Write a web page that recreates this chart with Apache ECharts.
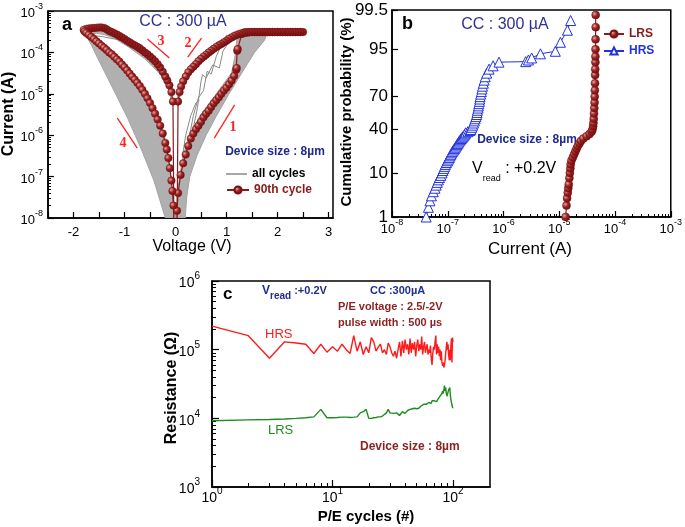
<!DOCTYPE html>
<html><head><meta charset="utf-8">
<script src="https://cdn.jsdelivr.net/npm/echarts@6/dist/echarts.min.js"></script>
<style>html,body{margin:0;padding:0;background:#fff}#c{width:685px;height:527px}</style>
</head><body><div id="c"></div><script>
// ---------- DATA ----------
// Panel a: 90th cycle I-V (V, A)
const branch1 = [[0.0,1e-10],[0.03,1.5e-8],[0.05,4e-8],[0.1,1.1e-7],[0.15,2.1e-7],[0.2,3.4e-7],[0.25,5.5e-7],[0.3,8.3e-7],[0.35,1.1e-6],[0.4,1.4e-6],[0.45,1.7e-6],[0.5,2.1e-6],[0.55,2.7e-6],[0.6,3.3e-6],[0.65,3.9e-6],[0.7,4.8e-6],[0.75,5.9e-6],[0.8,7.0e-6],[0.85,8.3e-6],[0.9,1.0e-5],[0.95,1.2e-5],[1.0,1.4e-5],[1.05,1.7e-5],[1.1,2.1e-5],[1.15,2.7e-5],[1.19,3.8e-5],[1.2,4.2e-5],[1.21,1.1e-4],[1.22,1.2e-4],[1.3,2.8e-4],[1.35,3.05e-4],[1.4,3.1e-4],[1.45,3.1e-4],[1.5,3.1e-4],[1.55,3.1e-4],[1.6,3.1e-4],[1.65,3.1e-4],[1.7,3.1e-4],[1.75,3.1e-4],[1.8,3.1e-4],[1.85,3.1e-4],[1.9,3.1e-4],[1.95,3.1e-4],[2.0,3.1e-4],[2.05,3.1e-4],[2.1,3.1e-4],[2.15,3.1e-4],[2.2,3.1e-4],[2.25,3.1e-4],[2.3,3.1e-4],[2.35,3.1e-4],[2.4,3.1e-4],[2.45,3.1e-4],[2.5,3.1e-4]];
const branch2 = [[2.45,3.1e-4],[2.4,3.1e-4],[2.35,3.1e-4],[2.3,3.1e-4],[2.25,3.1e-4],[2.2,3.1e-4],[2.15,3.1e-4],[2.1,3.1e-4],[2.05,3.1e-4],[2.0,3.1e-4],[1.95,3.1e-4],[1.9,3.1e-4],[1.85,3.1e-4],[1.8,3.1e-4],[1.75,3.1e-4],[1.7,3.1e-4],[1.65,3.1e-4],[1.6,3.1e-4],[1.55,3.1e-4],[1.5,3.1e-4],[1.45,3.05e-4],[1.4,3.0e-4],[1.35,2.95e-4],[1.3,2.9e-4],[1.25,2.8e-4],[1.2,2.65e-4],[1.15,2.5e-4],[1.1,2.3e-4],[1.05,2.1e-4],[1.0,1.9e-4],[0.95,1.75e-4],[0.9,1.6e-4],[0.85,1.48e-4],[0.8,1.35e-4],[0.75,1.22e-4],[0.7,1.1e-4],[0.65,9.9e-5],[0.6,8.8e-5],[0.55,7.9e-5],[0.5,7.0e-5],[0.45,6.1e-5],[0.4,5.2e-5],[0.35,4.5e-5],[0.3,3.9e-5],[0.25,3.3e-5],[0.2,2.6e-5],[0.15,2.0e-5],[0.11,1.5e-5],[0.08,1.1e-5],[0.05,6.5e-6],[0.02,1e-10]];
const branch3 = [[-0.02,1e-10],[-0.05,6.5e-6],[-0.08,1.1e-5],[-0.12,1.6e-5],[-0.16,2.1e-5],[-0.2,2.6e-5],[-0.25,3.4e-5],[-0.3,4.3e-5],[-0.35,5.2e-5],[-0.4,6.1e-5],[-0.45,7.0e-5],[-0.5,8.0e-5],[-0.55,9.0e-5],[-0.6,1.0e-4],[-0.65,1.12e-4],[-0.7,1.24e-4],[-0.75,1.36e-4],[-0.8,1.48e-4],[-0.85,1.6e-4],[-0.9,1.75e-4],[-0.95,1.92e-4],[-1.0,2.1e-4],[-1.05,2.3e-4],[-1.1,2.5e-4],[-1.15,2.7e-4],[-1.2,2.9e-4],[-1.25,3.1e-4],[-1.3,3.3e-4],[-1.35,3.6e-4],[-1.4,3.9e-4],[-1.45,4.0e-4],[-1.5,4.0e-4],[-1.55,3.95e-4],[-1.6,3.9e-4],[-1.65,3.85e-4],[-1.7,3.8e-4],[-1.75,3.7e-4],[-1.8,3.5e-4]];
const branch4 = [[-1.78,3.2e-4],[-1.75,2.95e-4],[-1.7,2.65e-4],[-1.65,2.35e-4],[-1.6,2.1e-4],[-1.55,1.85e-4],[-1.5,1.65e-4],[-1.45,1.45e-4],[-1.4,1.3e-4],[-1.35,1.15e-4],[-1.3,1.0e-4],[-1.25,9.0e-5],[-1.2,7.8e-5],[-1.15,6.8e-5],[-1.1,6.0e-5],[-1.05,5.1e-5],[-1.0,4.4e-5],[-0.95,3.7e-5],[-0.9,3.1e-5],[-0.85,2.6e-5],[-0.8,2.2e-5],[-0.75,1.85e-5],[-0.7,1.55e-5],[-0.65,1.25e-5],[-0.6,1.0e-5],[-0.55,7.8e-6],[-0.5,6.0e-6],[-0.45,4.5e-6],[-0.4,3.3e-6],[-0.35,2.4e-6],[-0.3,1.7e-6],[-0.25,1.1e-6],[-0.2,6.5e-7],[-0.17,4.5e-7],[-0.14,2.8e-7],[-0.11,1.6e-7],[-0.08,8e-8],[-0.06,4.5e-8],[-0.04,2e-8],[0.0,1e-10]];
// Panel a: envelopes of all cycles (outline vertices, V, A)
const bandForward = [[0.0,1e-8],[0.03,3.2e-8],[0.08,1e-7],[0.15,3.2e-7],[0.27,1e-6],[0.5,3.2e-6],[0.8,1e-5],[1.1,3.2e-5],[1.18,1e-4],[1.2,2e-4],[1.25,3.0e-4],[1.8,3.0e-4],[1.75,2e-4],[1.55,1e-4],[1.3,3.2e-5],[1.05,1e-5],[0.82,3.2e-6],[0.6,1e-6],[0.42,3.2e-7],[0.28,1e-7],[0.22,3.2e-8],[0.19,1e-8]];
const bandSetBack = [[0.03,7e-6],[0.08,1.6e-5],[0.2,3.5e-5],[0.4,7e-5],[0.7,1.4e-4],[1.0,2.3e-4],[1.3,3.1e-4],[1.8,3.1e-4],[1.8,2.9e-4],[1.4,2.6e-4],[1.1,1.9e-4],[0.8,1.1e-4],[0.5,5.5e-5],[0.3,3.0e-5],[0.15,1.5e-5],[0.08,8e-6],[0.05,5e-6]];
const bandResetUp = [[-0.05,7e-6],[-0.15,2.2e-5],[-0.3,5e-5],[-0.6,1.1e-4],[-0.9,1.9e-4],[-1.2,3.1e-4],[-1.45,4.1e-4],[-1.7,3.8e-4],[-1.8,3.5e-4],[-1.75,2.7e-4],[-1.55,2.9e-4],[-1.4,2.7e-4],[-1.2,2.2e-4],[-0.9,1.3e-4],[-0.6,7e-5],[-0.3,3e-5],[-0.15,1.4e-5],[-0.07,6e-6]];
const bandResetBack = [[-1.8,3.4e-4],[-1.76,2.7e-4],[-1.65,1.5e-4],[-1.46,5e-5],[-1.2,1.15e-5],[-0.94,2.6e-6],[-0.68,4.9e-7],[-0.42,7.8e-8],[-0.22,1.2e-8],[-0.2,1e-8],[0.0,1e-8],[-0.03,1.5e-8],[-0.08,7e-8],[-0.14,3e-7],[-0.22,1.0e-6],[-0.35,3e-6],[-0.5,7e-6],[-0.7,1.8e-5],[-1.0,5e-5],[-1.3,1.1e-4],[-1.55,2.0e-4],[-1.75,3.2e-4]];
const grayLines = [
  [[0.35,1.5e-6],[0.43,4.6e-6],[0.5,2e-5],[0.53,2.9e-5],[0.6,2.4e-5],[0.73,5e-5],[0.86,4.2e-5],[0.93,1.07e-4],[1.06,1.9e-4],[1.3,2.9e-4]],
  [[0.2,3e-7],[0.35,3e-6],[0.45,8e-6],[0.55,1.2e-5],[0.62,3.5e-5],[0.7,3e-5],[0.8,8e-5],[0.9,1.5e-4],[1.0,2.6e-4]],
  [[-1.75,3.3e-4],[-1.55,2.5e-4],[-1.43,2.4e-4],[-1.1,2.0e-4],[-0.8,1.7e-4],[-0.65,1.5e-4]],
  [[0.15,4e-7],[0.2,1e-6],[0.3,3e-6],[0.4,6e-6],[0.47,7e-6]]
];
// Panel b: cumulative probability [current A, %]
const lrsDist = [[1.3e-5,1],[1.35e-5,2],[1.38e-5,3],[1.42e-5,4],[1.45e-5,5],[1.48e-5,6],[1.52e-5,8],[1.55e-5,10],[1.58e-5,12],[1.6e-5,14],[1.65e-5,16],[1.75e-5,18],[1.85e-5,20],[1.95e-5,22],[2.05e-5,24],[2.15e-5,26],[2.3e-5,28],[2.45e-5,30],[2.7e-5,32],[3.1e-5,34],[3.5e-5,36],[3.8e-5,38],[3.95e-5,40],[4.05e-5,43],[4.1e-5,46],[4.15e-5,50],[4.2e-5,55],[4.25e-5,60],[4.3e-5,65],[4.32e-5,70],[4.35e-5,75],[4.38e-5,80],[4.4e-5,85],[4.42e-5,88],[4.45e-5,91],[4.45e-5,93],[4.47e-5,95],[4.48e-5,97],[4.5e-5,98.5],[4.5e-5,99.3]];
const hrsDist = [[4.1e-8,1.0],[4.5e-8,1.8],[4.8e-8,2.6],[5.1e-8,3.4],[5.5e-8,4.2],[5.9e-8,5.0],[6.2e-8,5.8],[6.5e-8,6.6],[6.8e-8,7.4],[7.1e-8,8.2],[7.5e-8,9.0],[7.9e-8,10],[8.2e-8,11],[8.5e-8,12],[8.8e-8,13],[9.1e-8,14],[9.5e-8,15],[9.9e-8,16],[1.03e-7,17],[1.07e-7,18],[1.1e-7,19],[1.14e-7,20],[1.18e-7,21],[1.22e-7,22],[1.27e-7,23],[1.32e-7,24],[1.37e-7,25],[1.42e-7,26],[1.47e-7,27],[1.52e-7,28],[1.57e-7,29],[1.62e-7,30],[1.68e-7,31],[1.75e-7,32],[1.82e-7,33],[1.9e-7,34],[1.98e-7,35],[2.05e-7,36],[2.1e-7,37],[2.3e-7,38],[2.5e-7,39],[2.6e-7,40],[2.7e-7,42],[2.8e-7,44],[2.9e-7,46],[3.0e-7,48],[3.1e-7,50],[3.2e-7,52],[3.3e-7,54],[3.35e-7,56],[3.4e-7,58],[3.5e-7,60],[3.55e-7,62],[3.6e-7,64],[3.7e-7,66],[3.75e-7,68],[3.8e-7,70],[3.9e-7,72],[4.0e-7,74],[4.1e-7,76],[4.2e-7,78],[4.35e-7,80],[4.5e-7,82],[4.7e-7,84],[5.0e-7,86],[5.5e-7,88],[6.5e-7,89.5],[8.3e-7,91],[2.5e-6,91.2],[2.8e-6,91.8],[3.2e-6,92.5],[4.6e-6,93.8],[8.5e-6,94.5],[1.05e-5,96.5],[1.4e-5,98.2],[1.6e-5,99]];
const probTicks = [1, 10, 40, 70, 95, 99.5];
// Panel c: resistance vs cycle (cycles 1..100)
const hrsCycles = [2.2e5,1.6e5,7.5e4,1.3e5,1.25e5,1.2e5,8.8e4,1.2e5,9.2e4,1.1e5,
9.5e4,1.2e5,1.0e5,8.8e4,1.6e5,9.5e4,1.3e5,8.5e4,1.1e5,9.0e4,
1.5e5,1.3e5,9.5e4,1.1e5,1.2e5,9.0e4,1.0e5,8.5e4,1.25e5,1.1e5,
9.0e4,8.0e4,9.5e4,7.5e4,1.0e5,1.3e5,8.0e4,1.35e5,9.0e4,1.4e5,
1.0e5,1.2e5,8.5e4,1.45e5,9.0e4,1.25e5,1.0e5,1.3e5,8.0e4,1.15e5,
1.4e5,9.5e4,1.2e5,1.0e5,1.55e5,8.5e4,1.1e5,1.3e5,9.0e4,1.05e5,
1.2e5,8.5e4,1.0e5,9.0e4,1.15e5,7.5e4,6.0e4,9.0e4,1.1e5,1.0e5,
1.3e5,1.6e5,8.5e4,1.2e5,9.0e4,1.1e5,8.0e4,1.0e5,7.0e4,9.5e4,
6.5e4,5.8e4,6.5e4,5.5e4,6.0e4,7.0e4,9.0e4,1.1e5,1.3e5,1.0e5,
1.2e5,8.5e4,7.0e4,1.0e5,7.0e4,1.1e5,1.45e5,6.5e4,1.5e5,1.3e5];
const lrsCycles = [9.2e3,9.5e3,9.6e3,9.8e3,1.0e4,1.02e4,1.05e4,1.35e4,1.02e4,1.02e4,
1.03e4,1.04e4,1.04e4,1.03e4,1.04e4,1.05e4,1.2e4,1.25e4,1.35e4,1.0e4,
1.0e4,1.02e4,1.03e4,1.05e4,1.05e4,1.08e4,1.1e4,1.2e4,1.35e4,1.2e4,
1.15e4,1.18e4,1.15e4,1.2e4,1.18e4,1.1e4,1.15e4,1.25e4,1.2e4,1.18e4,
1.22e4,1.3e4,1.25e4,1.35e4,1.3e4,1.38e4,1.32e4,1.4e4,1.35e4,1.38e4,
1.45e4,1.4e4,1.42e4,1.5e4,1.45e4,1.55e4,1.6e4,1.5e4,1.55e4,1.6e4,
1.65e4,1.55e4,1.7e4,1.6e4,1.75e4,1.65e4,1.8e4,1.7e4,1.75e4,1.8e4,
1.7e4,1.85e4,1.75e4,1.8e4,1.9e4,1.8e4,1.95e4,2.1e4,2.0e4,2.2e4,
2.3e4,2.5e4,2.3e4,2.6e4,3.0e4,2.5e4,2.8e4,2.3e4,2.1e4,2.0e4,
2.2e4,2.6e4,2.5e4,2.8e4,2.2e4,1.9e4,1.7e4,1.6e4,1.45e4,1.4e4];
// tick labels
const voltTicks = [-2,-1,0,1,2,3];
const decA = [-8,-7,-6,-5,-4,-3];
const decC = [3,4,5,6];
const cycDec = [0,1,2];
// annotation arrows (V1, I1, V2, I2)
const arrowsA = [[-0.12,7.3e-5,-0.55,2.1e-4],[0.51,2.2e-4,0.24,7.7e-5],[0.76,8.5e-7,1.16,5.4e-6],[-1.14,2.6e-6,-0.75,4.9e-7]];

// ---------- helpers ----------
const FF = "'Liberation Sans', Arial, sans-serif";
const L = Math.log10;
function probit(p){
 const a=[-3.969683028665376e+01,2.209460984245205e+02,-2.759285104469687e+02,1.383577518672690e+02,-3.066479806614716e+01,2.506628277459239e+00];
 const b=[-5.447609879822406e+01,1.615858368580409e+02,-1.556989798598866e+02,6.680131188771972e+01,-1.328068155288572e+01];
 const c=[-7.784894002430293e-03,-3.223964580411365e-01,-2.400758277161838e+00,-2.549732539343734e+00,4.374664141464968e+00,2.938163982698783e+00];
 const d=[7.784695709041462e-03,3.224671290700398e-01,2.445134137142996e+00,3.754408661907416e+00];
 const pl=0.02425, ph=1-pl; let q,r;
 if(p<pl){q=Math.sqrt(-2*Math.log(p));return (((((c[0]*q+c[1])*q+c[2])*q+c[3])*q+c[4])*q+c[5])/((((d[0]*q+d[1])*q+d[2])*q+d[3])*q+1);}
 if(p>ph){q=Math.sqrt(-2*Math.log(1-p));return -(((((c[0]*q+c[1])*q+c[2])*q+c[3])*q+c[4])*q+c[5])/((((d[0]*q+d[1])*q+d[2])*q+d[3])*q+1);}
 q=p-0.5;r=q*q;return (((((a[0]*r+a[1])*r+a[2])*r+a[3])*r+a[4])*r+a[5])*q/(((((b[0]*r+b[1])*r+b[2])*r+b[3])*r+b[4])*r+1);
}
function minors(a,b){const out=[];for(let n=a;n<b;n++){for(let k=2;k<=9;k++)out.push(n+L(k));}return out;}
function supRich(fs){return {b:{fontSize:fs,fontFamily:FF,color:'#000',padding:[5,0,0,0],verticalAlign:'bottom'},s:{fontSize:Math.round(fs*0.68),fontFamily:FF,color:'#000',verticalAlign:'top'}};}
const supFmt = v => '{b|10}{s|' + Math.round(v) + '}';
const zTicks = probTicks.map(p => probit(p/100));
const zFmt = v => { let bi=0; zTicks.forEach((z,i)=>{ if(Math.abs(z-v)<Math.abs(zTicks[bi]-v)) bi=i; }); return String(probTicks[bi]); };
const logPts = arr => arr.map(p => ({value:[p[0], L(p[1])], symbol: p[1] < 1e-8 ? 'none' : 'circle'}));
const RED = '#8b1a1a';
const redGrad = new echarts.graphic.RadialGradient(0.35,0.35,0.7,[{offset:0,color:'#e0a8a8'},{offset:0.45,color:'#a02424'},{offset:1,color:'#6a0c0c'}]);
const axLine = {show:true, onZero:false, lineStyle:{color:'#000',width:1.5}};
function bandSeries(poly){
  return {type:'custom', name:'band', xAxisIndex:0, yAxisIndex:0, silent:true, z:1, clip:true,
    data: poly.map(p => [p[0], L(p[1])]),
    renderItem:(params, api) => {
      if (params.dataIndex !== 0) return null;
      const pts = poly.map(p => api.coord([p[0], L(p[1])]));
      return {type:'polygon', shape:{points:pts}, style:{fill:'#b0b0b0', stroke:'#a4a4a4', lineWidth:1}};
    }};
}
function baseX(grid, min, max, labelVals, tickVals, len, fmt, rich, margin, fs){
  return {type:'value', gridIndex:grid, min:min, max:max, position:'bottom', axisLine:axLine,
    axisTick:{show:true, inside:true, length:len, customValues:tickVals, lineStyle:{color:'#000',width:1.2}},
    axisLabel:{show:true, customValues:labelVals, formatter:fmt, rich:rich, margin:margin, color:'#000', fontSize:fs, fontFamily:FF},
    splitLine:{show:false}};
}
function minorAxis(grid, min, max, vals, len, pos){
  return {type:'value', gridIndex:grid, min:min, max:max, position:pos, axisLine:{show:false, onZero:false},
    axisTick:{show:true, inside:true, length:len, customValues:vals, lineStyle:{color:'#000',width:1}},
    axisLabel:{show:false}, splitLine:{show:false}};
}
function baseY(grid, min, max, labelVals, tickVals, len, fmt, rich, margin, fs){
  const a = baseX(grid, min, max, labelVals, tickVals, len, fmt, rich, margin, fs);
  a.position = 'left'; return a;
}

// ---------- chart ----------
const chart = echarts.init(document.getElementById('c'), null, {renderer:'canvas'});
const zMin = probit(0.01), zMax = probit(0.995);
const legendText = {fontFamily:FF, fontSize:12, fontWeight:'bold'};
const option = {
  animation:false,
  backgroundColor:'#fff',
  grid:[
    {left:48, top:11, width:285, height:207, show:true, borderColor:'#000', borderWidth:1.5},
    {left:392, top:10, width:279, height:207, show:true, borderColor:'#000', borderWidth:1.5},
    {left:212, top:281, width:278, height:206, show:true, borderColor:'#000', borderWidth:1.5}
  ],
  xAxis:[
    baseX(0, -2.5, 3.088, voltTicks, [-2.5,-2,-1.5,-1,-0.5,0,0.5,1,1.5,2,2.5,3], 6, v => String(Math.round(v)), null, 8, 13),
    baseX(1, -8, -3, decA, decA, 6, supFmt, supRich(13), 1, 13),
    minorAxis(1, -8, -3, minors(-8,-3), 3, 'bottom'),
    baseX(2, 0, 2.307, cycDec, cycDec, 7, supFmt, supRich(14), -1, 14),
    minorAxis(2, 0, 2.307, minors(0,2), 4, 'bottom')
  ],
  yAxis:[
    baseY(0, -8, -3, decA, decA, 6, supFmt, supRich(13), 5, 13),
    minorAxis(0, -8, -3, minors(-8,-3), 3, 'left'),
    baseY(1, zMin, zMax, zTicks, zTicks, 6, zFmt, null, 4, 17),
    baseY(2, 3, 6, decC, decC, 7, supFmt, supRich(14), 12, 14),
    minorAxis(2, 3, 6, minors(3,6), 4, 'left')
  ],
  legend:[
    {left:226, top:168, orient:'vertical', itemWidth:21, itemHeight:1.5, padding:0, icon:'rect',
     textStyle:legendText, data:[{name:'all cycles', textStyle:{color:'#000'}}]},
    {left:226, top:184, orient:'vertical', itemWidth:22, itemHeight:9, padding:0,
     textStyle:legendText, data:[{name:'90th cycle', textStyle:{color:RED}}]},
    {left:603, top:28, orient:'vertical', itemWidth:20, itemHeight:9, itemGap:5, padding:0,
     textStyle:legendText,
     data:[{name:'LRS', textStyle:{color:RED}},{name:'HRS', textStyle:{color:'#2233dd'}}]}
  ],
  series:[
    bandSeries(bandForward), bandSeries(bandSetBack), bandSeries(bandResetUp), bandSeries(bandResetBack),
    ...grayLines.map(g => ({type:'line', name:'all cycles', xAxisIndex:0, yAxisIndex:0, z:2, symbol:'none',
       lineStyle:{color:'#8a8a8a', width:1}, itemStyle:{color:'#8a8a8a'}, data:g.map(p=>[p[0],L(p[1])])})),
    {type:'line', name:'90th cycle', xAxisIndex:0, yAxisIndex:0, z:5, symbol:'circle', symbolSize:7.5,
     lineStyle:{color:RED, width:1.2}, itemStyle:{color:redGrad, borderColor:'#7a1010', borderWidth:0.5},
     data: logPts([].concat(branch1, branch2, branch3, branch4)),
     markLine:{silent:true, symbol:['none','arrow'], symbolSize:[0,8], animation:false, z:10,
       lineStyle:{color:'#ff2020', width:1.3, type:'solid'}, label:{show:false},
       data: arrowsA.map(a => [{coord:[a[0], L(a[1])]},{coord:[a[2], L(a[3])]}])}},
    {type:'line', name:'LRS', xAxisIndex:1, yAxisIndex:2, z:5, symbol:'circle', symbolSize:8,
     lineStyle:{color:RED, width:1.2}, itemStyle:{color:redGrad, borderColor:'#7a1010', borderWidth:0.5},
     data: lrsDist.map(p => [L(p[0]), probit(p[1]/100)])},
    {type:'line', name:'HRS', xAxisIndex:1, yAxisIndex:2, z:5, symbol:'triangle', symbolSize:10,
     lineStyle:{color:'#2233dd', width:1}, itemStyle:{color:'#fff', borderColor:'#2233dd', borderWidth:1},
     data: hrsDist.map(p => [L(p[0]), probit(p[1]/100)])},
    {type:'line', name:'HRS c', xAxisIndex:3, yAxisIndex:3, symbol:'none', lineStyle:{color:'#ff1a1a', width:1.4},
     data: hrsCycles.map((v,i) => [L(i+1), L(v)])},
    {type:'line', name:'LRS c', xAxisIndex:3, yAxisIndex:3, symbol:'none', lineStyle:{color:'#1e8c1e', width:1.4},
     data: lrsCycles.map((v,i) => [L(i+1), L(v)])}
  ],
  graphic:[
    // axis titles
    {type:'text', x:9, y:114, rotation:Math.PI/2, style:{text:'Current (A)', fill:'#000', font:"bold 16px "+FF, align:'center', verticalAlign:'middle'}},
    {type:'text', x:192, y:247, style:{text:'Voltage (V)', fill:'#000', font:"16px "+FF, align:'center', verticalAlign:'middle'}},
    {type:'text', x:347, y:112, rotation:Math.PI/2, style:{text:'Cumulative probability (%)', fill:'#000', font:"bold 15px "+FF, align:'center', verticalAlign:'middle'}},
    {type:'text', x:530, y:249, style:{text:'Current (A)', fill:'#000', font:"17px "+FF, align:'center', verticalAlign:'middle'}},
    {type:'text', x:172, y:388, rotation:Math.PI/2, style:{text:'Resistance (\u03A9)', fill:'#000', font:"bold 16px "+FF, align:'center', verticalAlign:'middle'}},
    {type:'text', x:366, y:517, style:{text:'P/E cycles (#)', fill:'#000', font:"bold 15px "+FF, align:'center', verticalAlign:'middle'}},
    // panel a
    {type:'text', x:62, y:25, style:{text:'a', fill:'#000', font:"bold 18px "+FF, align:'left', verticalAlign:'middle'}},
    {type:'text', x:183, y:22, style:{text:'CC : 300 \u00B5A', fill:'#2e3192', font:"16px "+FF, align:'center', verticalAlign:'middle'}},
    {type:'text', x:275, y:152, style:{text:'Device size : 8\u00B5m', fill:'#1f2a8c', font:"bold 12px "+FF, align:'center', verticalAlign:'middle'}},
    {type:'text', x:161, y:41, style:{text:'3', fill:'#ff2020', font:"bold 14px 'Liberation Serif', serif", align:'center', verticalAlign:'middle'}},
    {type:'text', x:188, y:43, style:{text:'2', fill:'#ff2020', font:"bold 14px 'Liberation Serif', serif", align:'center', verticalAlign:'middle'}},
    {type:'text', x:233, y:127, style:{text:'1', fill:'#ff2020', font:"bold 14px 'Liberation Serif', serif", align:'center', verticalAlign:'middle'}},
    {type:'text', x:123, y:143, style:{text:'4', fill:'#ff2020', font:"bold 14px 'Liberation Serif', serif", align:'center', verticalAlign:'middle'}},
    // panel b
    {type:'text', x:402, y:24, style:{text:'b', fill:'#000', font:"bold 18px "+FF, align:'left', verticalAlign:'middle'}},
    {type:'text', x:505, y:25, style:{text:'CC : 300 \u00B5A', fill:'#2e3192', font:"16px "+FF, align:'center', verticalAlign:'middle'}},
    {type:'text', x:527, y:140, style:{text:'Device size : 8\u00B5m', fill:'#1f2a8c', font:"bold 12px "+FF, align:'center', verticalAlign:'middle'}},
    {type:'text', x:472, y:172, style:{text:'{v|V}{s|read}{v| : +0.2V}', align:'left', verticalAlign:'middle',
      rich:{v:{fontSize:16, fontFamily:FF, fill:'#000', color:'#000', verticalAlign:'top', padding:[0,0,6,0]}, s:{fontSize:9, fontFamily:FF, color:'#000', fill:'#000', verticalAlign:'bottom'}}}},
    // panel c
    {type:'text', x:223, y:294, style:{text:'c', fill:'#000', font:"bold 17px "+FF, align:'left', verticalAlign:'middle'}},
    {type:'text', x:262, y:293, style:{text:'{v|V}{s|read}{t| :+0.2V}', align:'left', verticalAlign:'middle',
      rich:{v:{fontSize:12, fontWeight:'bold', fontFamily:FF, color:'#1f2f8f', fill:'#1f2f8f', verticalAlign:'top', padding:[0,0,4,0]}, s:{fontSize:10, fontWeight:'bold', fontFamily:FF, color:'#1f2f8f', fill:'#1f2f8f', verticalAlign:'bottom'}, t:{fontSize:11, fontWeight:'bold', fontFamily:FF, color:'#1f2f8f', fill:'#1f2f8f', verticalAlign:'top', padding:[0,0,4,0]}}}},
    {type:'text', x:370, y:291, style:{text:'CC :300\u00B5A', fill:'#1f2f8f', font:"bold 11px "+FF, align:'left', verticalAlign:'middle'}},
    {type:'text', x:338, y:307, style:{text:'P/E voltage : 2.5/-2V', fill:'#8b2323', font:"bold 11px "+FF, align:'left', verticalAlign:'middle'}},
    {type:'text', x:338, y:323, style:{text:'pulse width : 500 \u00B5s', fill:'#8b2323', font:"bold 11px "+FF, align:'left', verticalAlign:'middle'}},
    {type:'text', x:265, y:334, style:{text:'HRS', fill:'#ff1a1a', font:"13px "+FF, align:'left', verticalAlign:'middle'}},
    {type:'text', x:268, y:430, style:{text:'LRS', fill:'#1e8c1e', font:"13px "+FF, align:'left', verticalAlign:'middle'}},
    {type:'text', x:360, y:447, style:{text:'Device size : 8\u00B5m', fill:'#8b2323', font:"bold 12px "+FF, align:'left', verticalAlign:'middle'}}
  ]
};
chart.setOption(option);
</script></body></html>
